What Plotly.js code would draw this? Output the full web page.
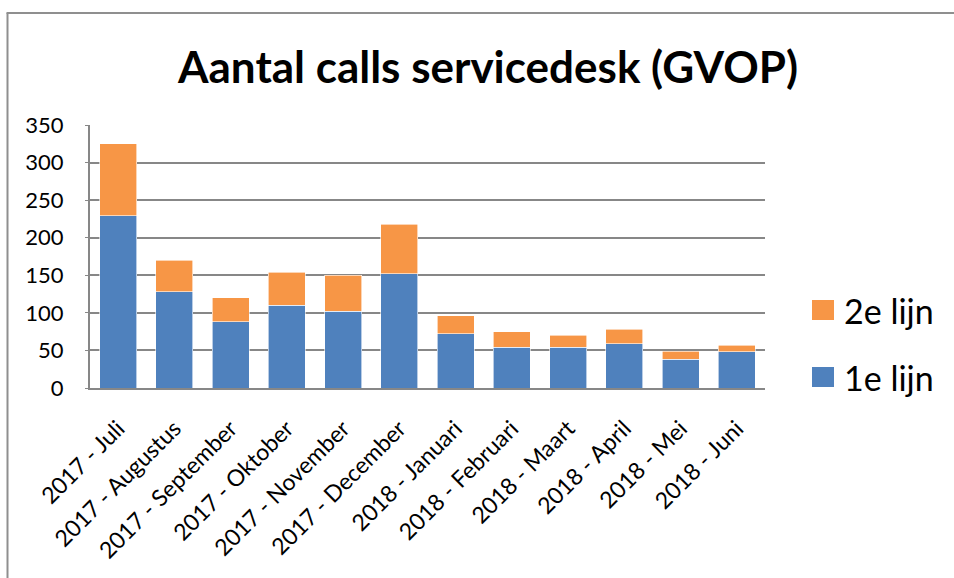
<!DOCTYPE html>
<html>
<head>
<meta charset="utf-8">
<script src="https://cdn.plot.ly/plotly-3.0.1.min.js"></script>
<style>
  html, body { margin: 0; padding: 0; background: #fff; }
  #chart { width: 954px; height: 578px; }
</style>
</head>
<body>
<div id="chart"></div>
<script>
const categories = [
  "2017 - Juli", "2017 - Augustus", "2017 - September", "2017 - Oktober",
  "2017 - November", "2017 - December", "2018 - Januari", "2018 - Februari",
  "2018 - Maart", "2018 - April", "2018 - Mei", "2018 - Juni"
];
const seriesNames = ["1e lijn", "2e lijn"];
const lijn1 = [229, 128, 88, 110, 102, 152, 72, 54, 54, 59, 38, 48];
const lijn2 = [96, 42, 32, 44, 48, 66, 24, 21, 16, 19, 11, 9];
const yTicks = [0, 50, 100, 150, 200, 250, 300, 350];

const colors = ["#4F81BD", "#F79646"];
const gridColor = "#878787";
const fontFamily = "Lato, 'Open Sans', 'Noto Sans', sans-serif";

// plot-area pixel frame (for placing decorations)
const L = 90, R = 765, T = 125, B = 388;
const px2x = p => (p - L) / (R - L);
const py2y = p => (B - p) / (B - T);

const traces = [
  { type: "bar", name: seriesNames[0], x: categories, y: lijn1,
    marker: { color: colors[0], line: { color: "#ffffff", width: 0.6 } }, showlegend: false },
  { type: "bar", name: seriesNames[1], x: categories, y: lijn2,
    marker: { color: colors[1], line: { color: "#ffffff", width: 0.6 } }, showlegend: false }
];

// custom legend (large square swatches as in reference)
const legendRows = [
  { name: seriesNames[1], color: colors[1], cy: 310 },
  { name: seriesNames[0], color: colors[0], cy: 377 }
];
const shapes = [];
const annotations = [];
legendRows.forEach(r => {
  shapes.push({ type: "rect", xref: "paper", yref: "paper",
    x0: px2x(812), x1: px2x(834), y0: py2y(r.cy - 10), y1: py2y(r.cy + 10),
    fillcolor: r.color, line: { width: 0 } });
  annotations.push({ xref: "paper", yref: "paper", x: px2x(842), y: py2y(r.cy),
    xanchor: "left", yanchor: "middle", showarrow: false, text: r.name,
    font: { family: fontFamily, size: 34, color: "#000" } });
});
// outer chart frame (top and left edges visible)
shapes.push({ type: "line", xref: "paper", yref: "paper",
  x0: px2x(7.5), x1: px2x(7.5), y0: py2y(13), y1: py2y(600),
  line: { color: "#8f8f8f", width: 2 } });
shapes.push({ type: "line", xref: "paper", yref: "paper",
  x0: px2x(6.5), x1: px2x(980), y0: py2y(13), y1: py2y(13),
  line: { color: "#8f8f8f", width: 2 } });

const layout = {
  width: 954, height: 578,
  paper_bgcolor: "#ffffff", plot_bgcolor: "#ffffff",
  margin: { l: L, r: 954 - R, t: T, b: 578 - B, pad: 0 },
  barmode: "stack",
  bargap: 0.34,
  title: {
    text: "Aantal calls servicedesk (GVOP)",
    font: { family: fontFamily, size: 44, color: "#000", weight: 700 },
    xref: "container", yref: "container", x: 488 / 954, y: 1 - 68 / 578,
    xanchor: "center", yanchor: "middle"
  },
  xaxis: {
    type: "category",
    tickangle: -45,
    tickfont: { family: fontFamily, size: 23, color: "#000" },
    showline: true, linecolor: gridColor, linewidth: 2,
    showgrid: false, ticks: "", automargin: false,
    ticklabelstandoff: 16
  },
  yaxis: {
    range: [0, 350],
    tickvals: yTicks,
    ticktext: yTicks.map(String),
    tickfont: { family: fontFamily, size: 22, color: "#000" },
    showline: true, linecolor: gridColor, linewidth: 2,
    showgrid: true, gridcolor: gridColor, gridwidth: 2,
    zeroline: false, ticks: "outside", ticklen: 3, tickcolor: gridColor,
    ticklabelstandoff: 17, automargin: false
  },
  showlegend: false,
  shapes: shapes,
  annotations: annotations
};

Plotly.newPlot("chart", traces, layout, { displayModeBar: false, staticPlot: true });
</script>
</body>
</html>
